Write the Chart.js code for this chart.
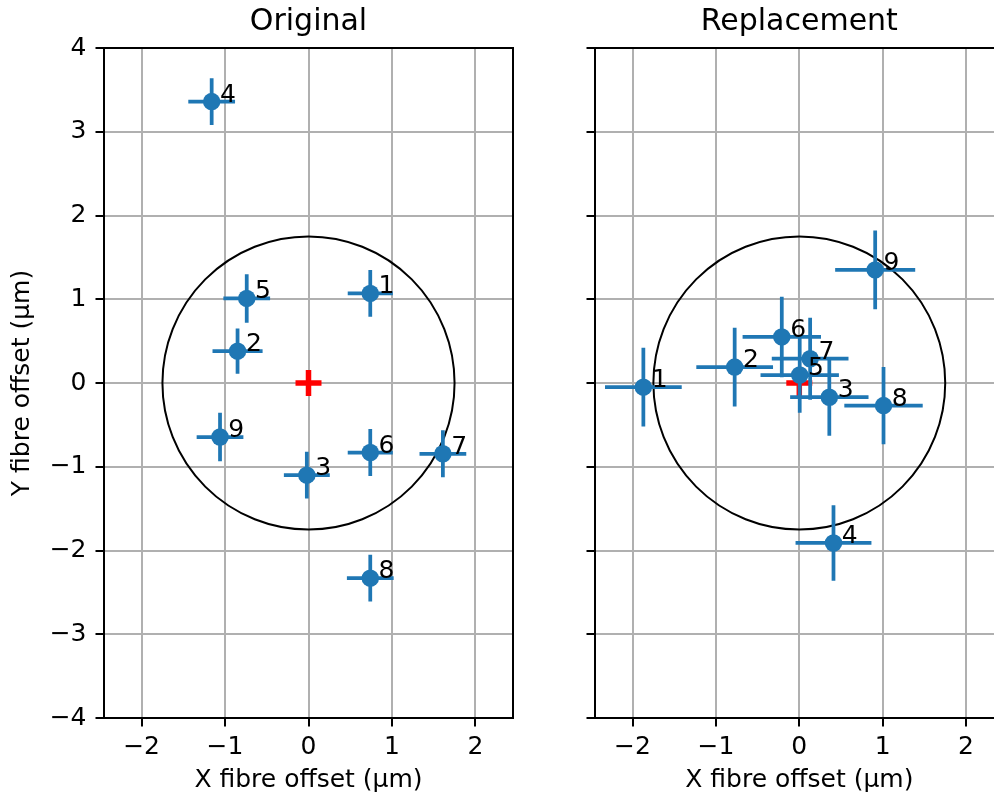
<!DOCTYPE html>
<html>
<head>
<meta charset="utf-8">
<script src="https://cdn.jsdelivr.net/npm/chart.js@4/dist/chart.umd.min.js"></script>
<style>
  html, body { margin: 0; padding: 0; background: #fff; overflow: hidden; width: 994px; height: 795px; }
  .panel { position: absolute; top: 0; height: 795px; }
  #wrapL { left: 0; width: 560px; }
  #wrapR { left: 480px; width: 560px; }
</style>
</head>
<body>
<div id="wrapL" class="panel"><canvas id="cL" width="560" height="795"></canvas></div>
<div id="wrapR" class="panel"><canvas id="cR" width="560" height="795"></canvas></div>
<script>
// ---- Data ----
const fibreLabels = ['1', '2', '3', '4', '5', '6', '7', '8', '9'];

const origX    = [0.74, -0.85, -0.02, -1.16, -0.74, 0.74, 1.61, 0.74, -1.06];
const origY    = [1.07, 0.38, -1.10, 3.36, 1.01, -0.83, -0.845, -2.33, -0.645];
const origXErr = [0.27, 0.30, 0.275, 0.28, 0.28, 0.27, 0.28, 0.28, 0.28];
const origYErr = [0.28, 0.27, 0.28, 0.28, 0.29, 0.28, 0.28, 0.28, 0.29];

const replX    = [-1.87, -0.775, 0.36, 0.41, 0.005, -0.21, 0.13, 1.01, 0.91];
const replY    = [-0.05, 0.19, -0.17, -1.91, 0.095, 0.55, 0.29, -0.27, 1.35];
const replXErr = [0.46, 0.46, 0.47, 0.455, 0.47, 0.47, 0.46, 0.47, 0.48];
const replYErr = [0.47, 0.47, 0.46, 0.45, 0.45, 0.48, 0.49, 0.46, 0.47];

const targetCentre = [{ x: 0, y: 0 }];
const circleRadius = 1.75;

const xTickValues = [-2, -1, 0, 1, 2];
const yTickValues = [-4, -3, -2, -1, 0, 1, 2, 3, 4];
const xLimits = [-2.45, 2.45];
const yLimits = [-4, 4];

const panelTitles = ['Original', 'Replacement'];
const xAxisTitle = 'X fibre offset (\u03bcm)';
const yAxisTitle = 'Y fibre offset (\u03bcm)';

// ---- Styles ----
const BLUE = '#1f77b4';
const FONT = "'DejaVu Sans', sans-serif";
const TICK_FS = 25;
const TITLE_FS = 30;
const LABEL_DX = 0.1;

function fmt(v) {
  return v < 0 ? '\u2212' + Math.abs(v) : String(v);
}

function makePoints(xs, ys) {
  return xs.map((x, i) => ({ x: x, y: ys[i] }));
}

const overlayPlugin = {
  id: 'overlay',
  beforeDatasetsDraw(chart) {
    const { ctx, scales: { x, y } } = chart;
    const cx = x.getPixelForValue(0), cy = y.getPixelForValue(0);
    const rx = Math.abs(x.getPixelForValue(circleRadius) - cx);
    const ry = Math.abs(y.getPixelForValue(circleRadius) - cy);
    ctx.save();
    ctx.beginPath();
    ctx.rect(chart.chartArea.left, chart.chartArea.top, chart.chartArea.width, chart.chartArea.height);
    ctx.clip();
    ctx.beginPath();
    ctx.ellipse(cx, cy, rx, ry, 0, 0, Math.PI * 2);
    ctx.strokeStyle = '#000';
    ctx.lineWidth = 2;
    ctx.stroke();
    ctx.restore();
  },
  beforeDatasetDraw(chart, args) {
    const ds = chart.data.datasets[args.index];
    if (!ds.errX) return;
    const { ctx, scales: { x, y } } = chart;
    ctx.save();
    ctx.strokeStyle = BLUE;
    ctx.lineWidth = 3.75;
    ds.data.forEach((p, i) => {
      const px = x.getPixelForValue(p.x), py = y.getPixelForValue(p.y);
      ctx.beginPath();
      ctx.moveTo(x.getPixelForValue(p.x - ds.errX[i]), py);
      ctx.lineTo(x.getPixelForValue(p.x + ds.errX[i]), py);
      ctx.moveTo(px, y.getPixelForValue(p.y - ds.errY[i]));
      ctx.lineTo(px, y.getPixelForValue(p.y + ds.errY[i]));
      ctx.stroke();
    });
    ctx.restore();
  },
  afterDatasetsDraw(chart) {
    const { ctx, chartArea: a, scales: { x, y } } = chart;
    ctx.save();
    ctx.strokeStyle = '#000';
    ctx.lineWidth = 2;
    ctx.strokeRect(a.left, a.top, a.width, a.height);
    const ds = chart.data.datasets.find(d => d.errX);
    ctx.fillStyle = '#000';
    ctx.font = TICK_FS + 'px ' + FONT;
    ctx.textAlign = 'left';
    ctx.textBaseline = 'alphabetic';
    ds.data.forEach((p, i) => {
      ctx.fillText(fibreLabels[i], x.getPixelForValue(p.x + LABEL_DX), y.getPixelForValue(p.y));
    });
    ctx.restore();
  }
};

function makeChart(canvasId, title, xs, ys, exs, eys, showYLabels, yAxisWidth, padRight) {
  return new Chart(document.getElementById(canvasId), {
    type: 'scatter',
    data: {
      datasets: [
        {
          data: makePoints(xs, ys),
          errX: exs,
          errY: eys,
          backgroundColor: BLUE,
          borderWidth: 0,
          pointRadius: 8.75,
          pointHoverRadius: 8.75,
          order: 1
        },
        {
          data: targetCentre,
          pointStyle: 'cross',
          pointRadius: 13,
          pointHoverRadius: 13,
          borderColor: 'red',
          borderWidth: 5.5,
          order: 2
        }
      ]
    },
    options: {
      responsive: false,
      animation: false,
      events: [],
      layout: { padding: { left: 0, right: padRight, top: 0, bottom: 0 } },
      plugins: {
        legend: { display: false },
        tooltip: { enabled: false },
        title: {
          display: true,
          text: title,
          fullSize: false,
          color: '#000',
          font: { family: FONT, size: TITLE_FS, weight: 'normal', lineHeight: 1.2 },
          padding: { top: 4.5, bottom: 7.5 }
        }
      },
      scales: {
        x: {
          type: 'linear',
          min: xLimits[0],
          max: xLimits[1],
          afterBuildTicks: s => { s.ticks = xTickValues.map(v => ({ value: v })); },
          afterFit: s => { s.height = 77; },
          ticks: {
            color: '#000',
            font: { family: FONT, size: TICK_FS },
            padding: 6,
            maxRotation: 0,
            callback: v => fmt(v)
          },
          grid: { color: '#b0b0b0', lineWidth: 2, tickColor: '#000', tickWidth: 2, tickLength: 8.5 },
          border: { display: true, color: '#000', width: 2 },
          title: {
            display: true,
            text: xAxisTitle,
            color: '#000',
            font: { family: FONT, size: TICK_FS, lineHeight: 1.2 },
            padding: { top: 0, bottom: 0 }
          }
        },
        y: {
          type: 'linear',
          min: yLimits[0],
          max: yLimits[1],
          afterBuildTicks: s => { s.ticks = yTickValues.map(v => ({ value: v })); },
          afterFit: s => { s.width = yAxisWidth; },
          ticks: {
            display: showYLabels,
            color: '#000',
            font: { family: FONT, size: TICK_FS },
            padding: 9,
            callback: v => fmt(v)
          },
          grid: { color: '#b0b0b0', lineWidth: 2, tickColor: '#000', tickWidth: 2, tickLength: 8.5 },
          border: { display: true, color: '#000', width: 2 },
          title: {
            display: showYLabels,
            text: yAxisTitle,
            color: '#000',
            font: { family: FONT, size: TICK_FS, lineHeight: 1.2 },
            padding: { top: 7, bottom: 0 }
          }
        }
      }
    },
    plugins: [overlayPlugin]
  });
}

makeChart('cL', panelTitles[0], origX, origY, origXErr, origYErr, true, 104, 47);
makeChart('cR', panelTitles[1], replX, replY, replXErr, replYErr, false, 115, 36.4);
</script>
</body>
</html>
